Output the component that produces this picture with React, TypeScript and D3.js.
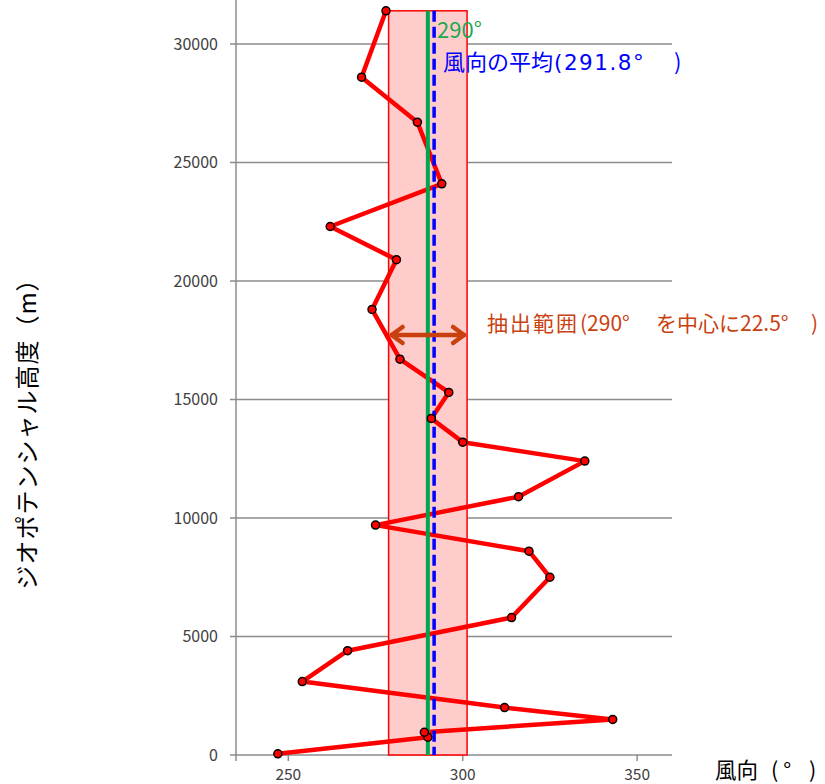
import * as d3 from "d3";

// 高度順の観測値（ジオポテンシャル高度 m, 風向 °）
const heights = [50, 750, 960, 1500, 2000, 3100, 4400, 5800, 7500, 8600, 9700, 10900, 12400, 13200, 14200, 15300, 16700, 18800, 20900, 22300, 24100, 26700, 28600, 31400];
const directions = [247, 290, 289, 343, 312, 254, 267, 314, 325, 319, 275, 316, 335, 300, 291, 296, 282, 274, 281, 262, 294, 287, 271, 278];

const yTicks = [0, 5000, 10000, 15000, 20000, 25000, 30000];
const xTicks = [250, 300, 350];

const centerDir = 290;
const halfWidth = 11.25; // 22.5° の幅
const meanDir = 291.8;

const W = 825;
const H = 784;
const font = "'Noto Sans CJK JP', 'Noto Sans', sans-serif";
const latin = "'DejaVu Sans', sans-serif";

export default function App() {
  const x = d3.scaleLinear().domain([235, 360]).range([236, 672]);
  const y = d3.scaleLinear().domain([0, 32000]).range([755, -3.4]);

  const points = heights.map((h, i) => ({ h, d: directions[i] }));
  const line = d3
    .line<{ h: number; d: number }>()
    .x((p) => x(p.d))
    .y((p) => y(p.h));

  const top = y(d3.max(heights)!);
  const arrowY = 335;
  const aL = x(centerDir - halfWidth) + 3;
  const aR = x(centerDir + halfWidth) - 3;

  return (
    <svg width={W} height={H} style={{ position: "absolute", left: 0, top: 0 }} fontFamily={font}>
      <rect width={W} height={H} fill="#fff" />

      {/* grid */}
      {yTicks.map((t) => (
        <line key={t} x1={230} x2={672} y1={y(t)} y2={y(t)} stroke="#8c8c8c" strokeWidth={1.5} />
      ))}
      <line x1={x(235)} x2={x(235)} y1={0} y2={761} stroke="#8c8c8c" strokeWidth={1.5} />
      {xTicks.map((t) => (
        <line key={t} x1={x(t)} x2={x(t)} y1={755} y2={761} stroke="#8c8c8c" strokeWidth={1.5} />
      ))}

      {/* tick labels */}
      {yTicks.map((t) => (
        <text key={t} x={218} y={y(t)} dy="0.36em" textAnchor="end" fontSize={16} fill="#404040">
          {t}
        </text>
      ))}
      {xTicks.map((t) => (
        <text key={t} x={x(t)} y={780} textAnchor="middle" fontSize={15.5} fill="#404040">
          {t}
        </text>
      ))}

      {/* 抽出範囲 */}
      <rect
        x={x(centerDir - halfWidth)}
        y={top}
        width={x(centerDir + halfWidth) - x(centerDir - halfWidth)}
        height={y(0) - top}
        fill="#ffcccc"
        stroke="#ff0000"
        strokeWidth={1.5}
      />

      {/* data */}
      <path d={line(points) ?? ""} fill="none" stroke="#ff0000" strokeWidth={4.5} strokeLinejoin="round" />
      <line x1={x(centerDir)} x2={x(centerDir)} y1={top} y2={y(0)} stroke="#00a550" strokeWidth={4} />
      <line
        x1={x(meanDir)}
        x2={x(meanDir)}
        y1={top}
        y2={y(0)}
        stroke="#0000ff"
        strokeWidth={3.5}
        strokeDasharray="11,5"
      />
      {points.map((p, i) => (
        <circle key={i} cx={x(p.d)} cy={y(p.h)} r={4} fill="#ff0000" stroke="#000" strokeWidth={1.5} />
      ))}

      {/* arrow */}
      <g stroke="#c9410f" strokeWidth={4.5} fill="none" strokeLinecap="round" strokeLinejoin="round">
        <line x1={aL} x2={aR} y1={arrowY} y2={arrowY} />
        <polyline points={`${aL + 11},${arrowY - 8} ${aL},${arrowY} ${aL + 11},${arrowY + 8}`} />
        <polyline points={`${aR - 11},${arrowY - 8} ${aR},${arrowY} ${aR - 11},${arrowY + 8}`} />
      </g>

      {/* annotations */}
      <text x={437} y={30} dy="0.35em" fontSize={22} fill="#1aa850">
        290°
      </text>
      <text y={62} dy="0.35em" fontSize={22} fill="#0000ff">
        <tspan x={443}>風向の平均</tspan>
        <tspan x={554} fontFamily={latin} fontSize={21.5} letterSpacing={1.5}>(291.8°</tspan>
        <tspan x={674}>)</tspan>
      </text>
      <text y={324} dy="0.35em" fontSize={21} fill="#c9410f">
        <tspan x={487} letterSpacing={2}>抽出範囲</tspan>
        <tspan x={580}>(290°</tspan>
        <tspan x={656}>を中心に22.5°</tspan>
        <tspan x={811}>)</tspan>
      </text>

      {/* axis titles */}
      <text y={770} dy="0.35em" fontSize={21.5} fill="#000">
        <tspan x={715}>風向</tspan>
        <tspan x={771} letterSpacing={5}>(°</tspan>
        <tspan x={809}>)</tspan>
      </text>
      <text
        transform={`translate(28,428) rotate(-90)`}
        dy="0.35em"
        textAnchor="middle"
        fontSize={24}
        letterSpacing={1}
        fill="#000"
      >
        ジオポテンシャル高度（m）
      </text>
    </svg>
  );
}
